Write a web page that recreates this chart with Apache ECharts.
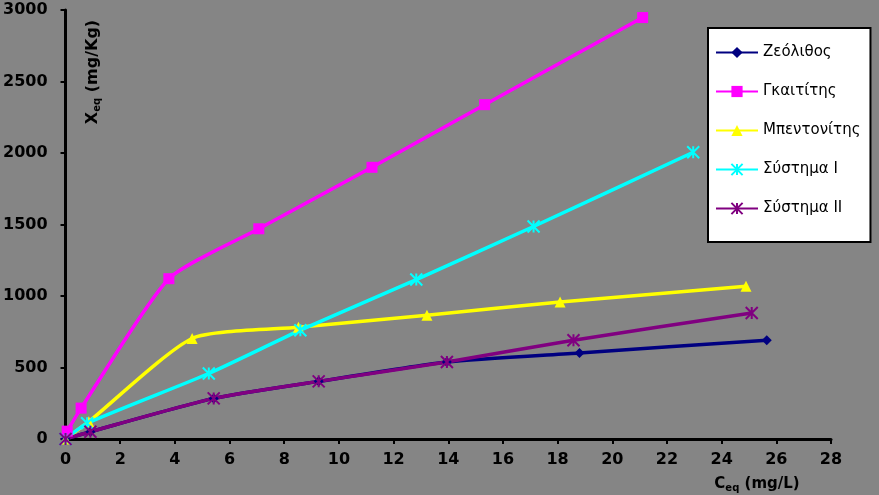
<!DOCTYPE html>
<html>
<head>
<meta charset="utf-8">
<script src="https://cdn.jsdelivr.net/npm/echarts@6/dist/echarts.min.js"></script>
<style>
html,body{margin:0;padding:0;background:#858585;}
#chart{width:879px;height:495px;}
</style>
</head>
<body>
<div id="chart"></div>
<script>
// Series names
const seriesNames = ['Ζεόλιθος', 'Γκαιτίτης', 'Μπεντονίτης', 'Σύστημα I', 'Σύστημα II'];

// Ζεόλιθος
const zeoliteX = [0, 0.91, 5.42, 9.26, 13.95, 18.8, 25.65];
const zeoliteY = [0, 51, 284, 403, 539, 602, 691];
// Γκαιτίτης
const goethiteX = [0.06, 0.57, 3.78, 7.07, 11.21, 15.33, 21.11];
const goethiteY = [55, 216, 1121, 1470, 1900, 2338, 2947];
// Μπεντονίτης
const bentoniteX = [0, 0.85, 4.63, 8.52, 13.22, 18.09, 24.89];
const bentoniteY = [0, 121, 703, 782, 865, 958, 1068];
// Σύστημα I
const system1X = [0, 0.79, 5.24, 8.59, 12.83, 17.12, 22.96];
const system1Y = [0, 110, 458, 761, 1115, 1486, 2005];
// Σύστημα II
const system2X = [0, 0.91, 5.42, 9.26, 13.95, 18.58, 25.1];
const system2Y = [0, 51, 284, 403, 539, 691, 881];

// Axis ticks
const xTicks = [0, 2, 4, 6, 8, 10, 12, 14, 16, 18, 20, 22, 24, 26, 28];
const yTicks = [0, 500, 1000, 1500, 2000, 2500, 3000];

function pairs(xs, ys) { return xs.map((x, i) => [x, ys[i]]); }

const colors = ['#000080', '#FF00FF', '#FFFF00', '#00FFFF', '#800080'];
const symbols = [
  'diamond',
  'rect',
  'triangle',
  'path://M0,0L10,10M10,0L0,10M5,0L5,10',
  'path://M0,0L10,10M10,0L0,10M5,0L5,10'
];
const sizes = [10, 11, 11, 12, 12];
const allData = [
  pairs(zeoliteX, zeoliteY),
  pairs(goethiteX, goethiteY),
  pairs(bentoniteX, bentoniteY),
  pairs(system1X, system1Y),
  pairs(system2X, system2Y)
];

const chart = echarts.init(document.getElementById('chart'), null, {renderer: 'canvas'});
const FONT = '"DejaVu Sans", Verdana, sans-serif';
const labelFont = {color: '#000', fontFamily: FONT, fontWeight: 'bold', fontSize: 16};

const option = {
  backgroundColor: '#858585',
  animation: false,
  grid: {left: 65, right: 48, top: 10, bottom: 56, containLabel: false},
  legend: {
    orient: 'vertical',
    left: 708,
    top: 28,
    data: seriesNames,
    backgroundColor: '#ffffff',
    borderColor: '#000000',
    borderWidth: 2,
    padding: [17, 10, 26, 7],
    itemWidth: 42,
    itemHeight: 14,
    itemGap: 24,
    textStyle: {color: '#000', fontFamily: FONT, fontSize: 15}
  },
  xAxis: {
    type: 'value', min: 0, max: 28, interval: 2,
    axisLine: {show: true, onZero: false, lineStyle: {color: '#000', width: 3}},
    axisTick: {show: true, length: 5, lineStyle: {color: '#000', width: 2}},
    axisLabel: Object.assign({margin: 13, formatter: v => String(v)}, labelFont),
    splitLine: {show: false}
  },
  yAxis: {
    type: 'value', min: 0, max: 3000, interval: 500,
    axisLine: {show: true, onZero: false, lineStyle: {color: '#000', width: 3}},
    axisTick: {show: true, length: 5, lineStyle: {color: '#000', width: 2}},
    axisLabel: Object.assign({margin: 18, formatter: v => String(v)}, labelFont),
    splitLine: {show: false}
  },
  series: seriesNames.map((name, i) => ({
    name: name,
    type: 'line',
    data: allData[i],
    smooth: 0.2,
    symbol: symbols[i],
    symbolSize: sizes[i],
    showSymbol: true,
    lineStyle: {color: colors[i], width: 3.5},
    itemStyle: {color: colors[i], borderColor: colors[i], borderWidth: i >= 3 ? 2 : 0}
  })),
  graphic: [
    {
      type: 'text',
      x: 93, y: 72,
      rotation: Math.PI / 2,
      style: {
        text: '{b|X}{s|eq}{b| (mg/Kg)}',
        align: 'center',
        verticalAlign: 'middle',
        rich: {
          b: {fontFamily: FONT, fontWeight: 'bold', fontSize: 16, fill: '#000'},
          s: {fontFamily: FONT, fontWeight: 'bold', fontSize: 10, fill: '#000', padding: [8, 0, 0, 0]}
        }
      }
    },
    {
      type: 'text',
      x: 757, y: 484,
      style: {
        text: '{b|C}{s|eq}{b| (mg/L)}',
        align: 'center',
        verticalAlign: 'middle',
        rich: {
          b: {fontFamily: FONT, fontWeight: 'bold', fontSize: 15, fill: '#000'},
          s: {fontFamily: FONT, fontWeight: 'bold', fontSize: 10, fill: '#000', padding: [8, 0, 0, 0]}
        }
      }
    }
  ]
};
chart.setOption(option);
</script>
</body>
</html>
